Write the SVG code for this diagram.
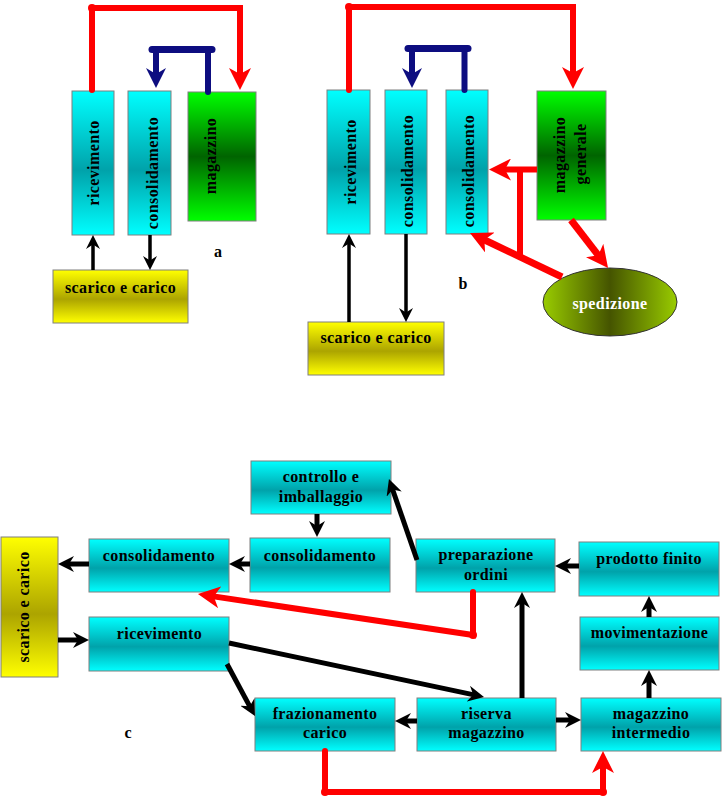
<svg xmlns="http://www.w3.org/2000/svg" width="722" height="800" viewBox="0 0 722 800">
<defs>
<style>
.box{stroke:#7f7f7f;stroke-width:1}
.cy{fill:url(#gCyan)}
.gr{fill:url(#gGreen)}
.ye{fill:url(#gYellow)}
.t{font-family:"Liberation Serif","Times New Roman",serif;font-weight:bold;font-size:16px;fill:#000;letter-spacing:0.4px;text-anchor:middle}
.lab{font-family:"Liberation Serif","Times New Roman",serif;font-weight:bold;font-size:16px;fill:#000;text-anchor:middle}
.red{fill:none;stroke:#ff0000;stroke-width:6;stroke-linecap:round;stroke-linejoin:miter}
.blue{fill:none;stroke:#0d0d80;stroke-width:6;stroke-linecap:round;stroke-linejoin:miter}
.blk{fill:none;stroke:#000;stroke-width:5}
.blks{fill:none;stroke:#000;stroke-width:3.5}
.dotr{fill:#ff0000}
</style>
<linearGradient id="gCyan" x1="0" y1="0" x2="0" y2="1">
<stop offset="0" stop-color="#00ffff"/>
<stop offset="0.55" stop-color="#00a2aa"/>
<stop offset="1" stop-color="#00ffff"/>
</linearGradient>
<linearGradient id="gGreen" x1="0" y1="0" x2="0" y2="1">
<stop offset="0" stop-color="#00ff00"/>
<stop offset="0.5" stop-color="#006400"/>
<stop offset="1" stop-color="#00ff00"/>
</linearGradient>
<linearGradient id="gYellow" x1="0" y1="0" x2="0" y2="1">
<stop offset="0" stop-color="#ffff00"/>
<stop offset="0.55" stop-color="#aca400"/>
<stop offset="1" stop-color="#ffff00"/>
</linearGradient>
<linearGradient id="gSped" x1="0" y1="0" x2="1" y2="0">
<stop offset="0" stop-color="#99cc00"/>
<stop offset="0.5" stop-color="#455400"/>
<stop offset="1" stop-color="#99cc00"/>
</linearGradient>
<marker id="mRed" viewBox="0 0 22 22" markerWidth="22" markerHeight="22" refX="8" refY="11" markerUnits="userSpaceOnUse" orient="auto">
<path d="M0,0 L22,11 L0,22 L6,11 Z" fill="#ff0000"/>
</marker>
<marker id="mBlue" viewBox="0 0 20 20" markerWidth="20" markerHeight="20" refX="8" refY="10" markerUnits="userSpaceOnUse" orient="auto">
<path d="M0,0 L20,10 L0,20 L6,10 Z" fill="#0d0d80"/>
</marker>
<marker id="mBlk" viewBox="0 0 16 16" markerWidth="16" markerHeight="16" refX="7" refY="8" markerUnits="userSpaceOnUse" orient="auto">
<path d="M0,0 L16,8 L0,16 L5,8 Z" fill="#000"/>
</marker>
<marker id="mBlkS" viewBox="0 0 14 14" markerWidth="14" markerHeight="14" refX="6" refY="7" markerUnits="userSpaceOnUse" orient="auto">
<path d="M0,0 L14,7 L0,14 L4.5,7 Z" fill="#000"/>
</marker>
</defs>

<!-- Part a nodes -->
<g id="a-ricevimento">
<rect class="box cy" x="72" y="91" width="42" height="144"/>
<text class="t" transform="translate(93,163) rotate(-90)" y="5.5">ricevimento</text>
</g>
<g id="a-consolidamento">
<rect class="box cy" x="128" y="91" width="43" height="144"/>
<text class="t" transform="translate(152,173) rotate(-90)" y="5.5">consolidamento</text>
</g>
<g id="a-magazzino">
<rect class="box gr" x="188" y="92" width="68" height="129"/>
<text class="t" transform="translate(210,156) rotate(-90)" y="5.5">magazzino</text>
</g>
<g id="a-scarico">
<rect class="box ye" x="53" y="270" width="135" height="53"/>
<text class="t" x="120.5" y="293">scarico e carico</text>
</g>
<text class="lab" x="218" y="257">a</text>

<!-- Part b nodes -->
<g id="b-ricevimento">
<rect class="box cy" x="327" y="90" width="43" height="144"/>
<text class="t" transform="translate(350,162) rotate(-90)" y="5.5">ricevimento</text>
</g>
<g id="b-consolidamento1">
<rect class="box cy" x="385" y="90" width="42" height="144"/>
<text class="t" transform="translate(407,171) rotate(-90)" y="5.5">consolidamento</text>
</g>
<g id="b-consolidamento2">
<rect class="box cy" x="446" y="90" width="42" height="144"/>
<text class="t" transform="translate(468,171) rotate(-90)" y="5.5">consolidamento</text>
</g>
<g id="b-magazzino-generale">
<rect class="box gr" x="537" y="91" width="69" height="129"/>
<text class="t" transform="translate(559,155) rotate(-90)" y="5.5">magazzino</text>
<text class="t" transform="translate(580,154) rotate(-90)" y="5.5">generale</text>
</g>
<g id="b-spedizione">
<ellipse cx="610" cy="302" rx="67" ry="34" fill="url(#gSped)" stroke="#333" stroke-width="1"/>
<text class="t" x="610" y="309" style="fill:#fff">spedizione</text>
</g>
<g id="b-scarico">
<rect class="box ye" x="308" y="322" width="136" height="53"/>
<text class="t" x="376" y="343">scarico e carico</text>
</g>
<text class="lab" x="463" y="289">b</text>

<!-- Part c nodes -->
<g id="c-controllo">
<rect class="box cy" x="251" y="461" width="140" height="53"/>
<text class="t" x="321" y="482">controllo e</text>
<text class="t" x="321" y="502">imballaggio</text>
</g>
<g id="c-consolidamento-r">
<rect class="box cy" x="250" y="538" width="140" height="54"/>
<text class="t" x="320" y="561">consolidamento</text>
</g>
<g id="c-consolidamento-l">
<rect class="box cy" x="89" y="539" width="140" height="53"/>
<text class="t" x="159" y="561">consolidamento</text>
</g>
<g id="c-scarico">
<rect class="box ye" x="1" y="537" width="57" height="140"/>
<text class="t" transform="translate(24,607) rotate(-90)" y="5">scarico e carico</text>
</g>
<g id="c-ricevimento">
<rect class="box cy" x="89" y="617" width="140" height="54"/>
<text class="t" x="159.5" y="639">ricevimento</text>
</g>
<g id="c-frazionamento">
<rect class="box cy" x="255" y="698" width="140" height="53"/>
<text class="t" x="325" y="719">frazionamento</text>
<text class="t" x="325" y="738">carico</text>
</g>
<g id="c-preparazione">
<rect class="box cy" x="416" y="539" width="139" height="53"/>
<text class="t" x="486" y="560">preparazione</text>
<text class="t" x="486" y="580">ordini</text>
</g>
<g id="c-prodotto">
<rect class="box cy" x="579" y="542" width="140" height="54"/>
<text class="t" x="649" y="564">prodotto finito</text>
</g>
<g id="c-movimentazione">
<rect class="box cy" x="580" y="617" width="139" height="53"/>
<text class="t" x="649.5" y="638">movimentazione</text>
</g>
<g id="c-riserva">
<rect class="box cy" x="417" y="698" width="139" height="53"/>
<text class="t" x="486.5" y="719">riserva</text>
<text class="t" x="486.5" y="738">magazzino</text>
</g>
<g id="c-magazzino-intermedio">
<rect class="box cy" x="581" y="698" width="140" height="53"/>
<text class="t" x="651" y="719">magazzino</text>
<text class="t" x="651" y="738">intermedio</text>
</g>
<text class="lab" x="128" y="738">c</text>

<!-- Connectors -->
<g id="connectors">
<!-- a -->
<polyline class="red" points="92,90 92,8 240,8 240,76" marker-end="url(#mRed)"/>
<circle class="dotr" cx="92" cy="8" r="4"/>
<polyline class="blue" points="208,92 208,49.5 156,49.5 156,76" marker-end="url(#mBlue)"/>
<line class="blue" x1="152" y1="49.5" x2="212" y2="49.5" style="stroke-width:7"/>
<line class="blks" x1="93" y1="270" x2="93" y2="243" marker-end="url(#mBlkS)"/>
<line class="blks" x1="150" y1="235" x2="150" y2="262" marker-end="url(#mBlkS)"/>
<!-- b -->
<polyline class="red" points="349,90 349,7 573,7 573,75" marker-end="url(#mRed)"/>
<circle class="dotr" cx="349" cy="7" r="4"/>
<polyline class="blue" points="464.5,90 464.5,48.5 412,48.5 412,76" marker-end="url(#mBlue)"/>
<line class="blue" x1="408" y1="48.5" x2="468" y2="48.5" style="stroke-width:7"/>
<line class="red" x1="537" y1="169.5" x2="503" y2="169.5" marker-end="url(#mRed)" style="stroke-linecap:butt"/>
<line class="red" x1="520" y1="169.5" x2="520" y2="255" style="stroke-linecap:butt"/>
<line class="red" x1="562" y1="277" x2="482.6" y2="239" marker-end="url(#mRed)" style="stroke-width:7;stroke-linecap:butt"/>
<line class="red" x1="571" y1="220" x2="599.5" y2="256.9" marker-end="url(#mRed)" style="stroke-width:7;stroke-linecap:butt"/>
<line class="blks" x1="349" y1="322" x2="349" y2="242" marker-end="url(#mBlkS)"/>
<line class="blks" x1="406" y1="234" x2="406" y2="314" marker-end="url(#mBlkS)"/>
<!-- c -->
<line class="blk" x1="317" y1="514" x2="317" y2="528" marker-end="url(#mBlk)"/>
<line class="blk" x1="250" y1="564" x2="238" y2="564" marker-end="url(#mBlk)"/>
<line class="blk" x1="89" y1="564" x2="67" y2="564" marker-end="url(#mBlk)"/>
<line class="blk" x1="58" y1="640" x2="80" y2="640" marker-end="url(#mBlk)"/>
<line class="blk" x1="227" y1="664" x2="250.7" y2="708.1" marker-end="url(#mBlk)"/>
<line class="blk" x1="229" y1="643" x2="475.2" y2="695.1" marker-end="url(#mBlk)"/>
<line class="blk" x1="417" y1="721" x2="404" y2="721" marker-end="url(#mBlk)"/>
<line class="blk" x1="556" y1="720" x2="572" y2="720" marker-end="url(#mBlk)"/>
<line class="blk" x1="522" y1="698" x2="522" y2="601" marker-end="url(#mBlk)"/>
<line class="blk" x1="649" y1="698" x2="649" y2="679" marker-end="url(#mBlk)"/>
<line class="blk" x1="649" y1="617" x2="649" y2="605" marker-end="url(#mBlk)"/>
<line class="blk" x1="579" y1="566" x2="564" y2="566" marker-end="url(#mBlk)"/>
<line class="blk" x1="417" y1="560" x2="391.9" y2="487.5" marker-end="url(#mBlk)"/>
<polyline class="red" points="473,592 473,635 211.8,596.1" marker-end="url(#mRed)"/>
<circle class="dotr" cx="473" cy="635" r="4"/>
<polyline class="red" points="325,751 325,792 603,792 603,765" marker-end="url(#mRed)"/>
<circle class="dotr" cx="325" cy="792" r="4"/>
<circle class="dotr" cx="603" cy="792" r="4"/>
</g>
</svg>
